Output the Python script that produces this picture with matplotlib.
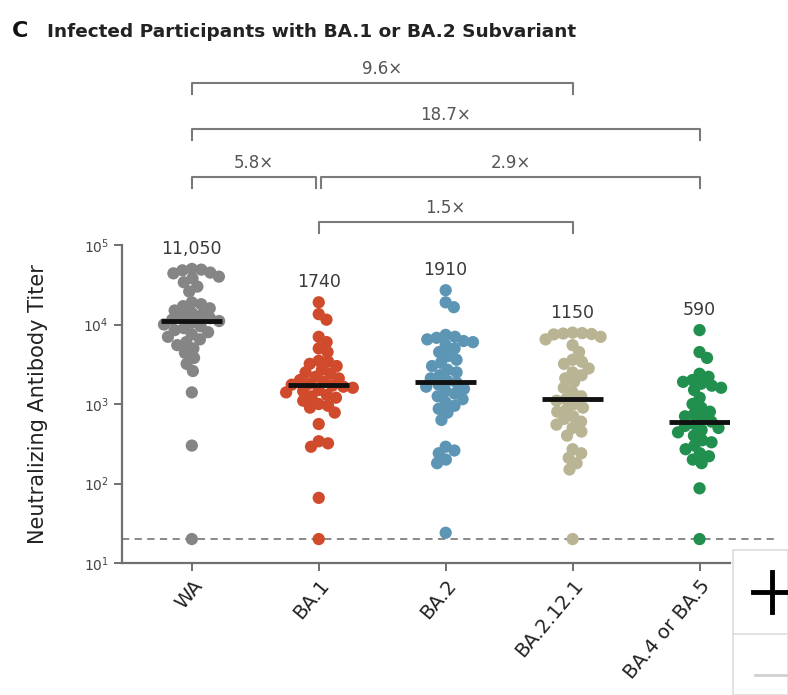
import numpy as np
import matplotlib
matplotlib.use("Agg")
import matplotlib.pyplot as plt
import matplotlib.transforms as mtransforms
from matplotlib.patches import Rectangle
from matplotlib.lines import Line2D

# data
groups = ["WA", "BA.1", "BA.2", "BA.2.12.1", "BA.4 or BA.5"]
colors = ["#858585", "#d04a2c", "#5c96b4", "#b9b493", "#21904f"]
medians = [11050, 1740, 1910, 1150, 590]
median_labels = ["11,050", "1740", "1910", "1150", "590"]

wa = [50000, 49000, 48000, 45000, 44000, 40000, 38000, 34000, 30000, 26000,
      19000, 18000, 17000, 16000, 15000, 14000, 13000, 12500, 12000, 11500,
      11050, 10500, 10000, 9500, 9000, 8500, 8000, 7500, 7000, 6500, 6000,
      5500, 5000, 4400, 3800, 3200, 2600, 1400, 300, 20]
ba1 = [19000, 13500, 11500, 7000, 6000, 5000, 4500, 3500, 3400, 3200, 3000,
       2700, 2500, 2400, 2200, 2100, 2000, 1900, 1800, 1750, 1700, 1650, 1600,
       1500, 1450, 1400, 1300, 1250, 1200, 1100, 1000, 950, 900, 780, 560, 340,
       320, 290, 66, 20]
ba2 = [27000, 19000, 16500, 7400, 7000, 6800, 6500, 6200, 6000, 5500, 5000,
       4500, 4000, 3600, 3300, 3000, 2700, 2500, 2300, 2100, 1950, 1850, 1750,
       1650, 1550, 1450, 1350, 1250, 1150, 1050, 950, 870, 780, 630, 290, 260,
       240, 200, 180, 24]
ba2121 = [7900, 7800, 7700, 7600, 7500, 7000, 6500, 5500, 4500, 3600, 3400,
          3200, 2800, 2500, 2300, 2100, 1900, 1600, 1400, 1250, 1150, 1100, 1000,
          900, 850, 800, 700, 650, 600, 550, 500, 450, 400, 270, 240, 210, 180,
          150, 20]
ba45 = [8500, 4500, 3800, 2400, 2200, 2000, 1900, 1800, 1700, 1600, 1500, 1200,
        1000, 900, 800, 750, 700, 650, 600, 560, 530, 500, 470, 440, 400, 350,
        330, 300, 270, 240, 220, 200, 180, 87, 20]
series = [wa, ba1, ba2, ba2121, ba45]

# fold-change brackets
brackets_start = [0, 0, 0, 1.02, 1]
brackets_end = [3, 4, 0.98, 4, 3]
brackets_text = ["9.6×", "18.7×", "5.8×", "2.9×", "1.5×"]
brackets_row = [0, 1, 2, 2, 3]

lod = 20

W, H = 788, 695
fig = plt.figure(figsize=(W / 100, H / 100), dpi=100)
ax = fig.add_axes([122 / W, (H - 563) / H, (730 - 122) / W, (563 - 245) / H])
ax.set_yscale("log")
ax.set_ylim(10, 1e5)
ax.set_xlim(-0.55, 4.24)


def swarm_offsets(vals, dist):
    """simple beeswarm in pixel space, returns x offsets in pixels"""
    ypix = ax.transData.transform(np.column_stack([np.zeros(len(vals)), vals]))[:, 1]
    order = np.argsort(-ypix)
    placed = []
    offs = np.zeros(len(vals))
    for k in order:
        y = ypix[k]
        cands = [0.0]
        for (px, py) in placed:
            dy = abs(py - y)
            if dy < dist:
                dx = np.sqrt(dist ** 2 - dy ** 2)
                cands += [px + dx, px - dx]
        cands.sort(key=abs)
        for c in cands:
            ok = all((c - px) ** 2 + (y - py) ** 2 >= dist ** 2 - 1e-6
                     for (px, py) in placed)
            if ok:
                offs[k] = c
                placed.append((c, y))
                break
    return offs


px_per_unit = ax.transData.transform((1, 10))[0] - ax.transData.transform((0, 10))[0]
for i, (vals, c) in enumerate(zip(series, colors)):
    offs = swarm_offsets(vals, 9.5) / px_per_unit
    ax.scatter(i + offs, vals, s=78, color=c, edgecolor="none", zorder=3,
               clip_on=False)

# medians
for i, m in enumerate(medians):
    ax.plot([i - 0.24, i + 0.24], [m, m], color="#111111", lw=3.5, zorder=5,
            solid_capstyle="butt")

# median labels above the highest point
for i, (vals, lab) in enumerate(zip(series, median_labels)):
    ax.annotate(lab, (i, max(vals)), xytext=(0, 8), textcoords="offset points",
                ha="center", va="bottom", fontsize=12.5, color="#3a3a3a",
                annotation_clip=False)

# limit of detection
ax.plot([-0.55, 4.6], [lod, lod], color="#808080", lw=1.3, ls=(0, (4, 3)),
        zorder=2, clip_on=False)

for s in ["top", "right"]:
    ax.spines[s].set_visible(False)
for s in ["left", "bottom"]:
    ax.spines[s].set_color("#707070")
    ax.spines[s].set_linewidth(1.6)
ax.tick_params(axis="both", color="#707070", width=1.4, length=6,
               labelcolor="#444444", labelsize=10)
ax.yaxis.set_minor_locator(matplotlib.ticker.NullLocator())
ax.set_xticks(range(len(groups)))
ax.set_xticklabels(groups, rotation=50, ha="right", rotation_mode="anchor",
                   fontsize=14, color="#222222")
ax.set_ylabel("Neutralizing Antibody Titer", fontsize=15, color="#222222")
ax.yaxis.set_label_coords(-(122 - 48) / (730 - 122), 0.5)

# brackets
trans = mtransforms.blended_transform_factory(ax.transData, fig.transFigure)
row_y = [83, 129, 177, 222]
for x0, x1, txt, r in zip(brackets_start, brackets_end, brackets_text, brackets_row):
    y = 1 - row_y[r] / H
    dy = 11 / H
    ax.add_line(Line2D([x0, x0, x1, x1], [y - dy, y, y, y - dy], transform=trans,
                       color="#7a7a7a", lw=1.5, clip_on=False))
    ax.text((x0 + x1) / 2, y + 5 / H, txt, transform=trans, ha="center",
            va="bottom", fontsize=12, color="#555555")

# title
fig.text(12 / W, 1 - 37 / H, "C", fontsize=16, fontweight="bold", color="#111111")
fig.text(47 / W, 1 - 37 / H, "Infected Participants with BA.1 or BA.2 Subvariant",
         fontsize=13.3, fontweight="bold", color="#222222")

# zoom widget overlay at the lower right corner
fig.add_artist(Rectangle((733 / W, 0), (W - 733) / W, (H - 550) / H,
                         transform=fig.transFigure, facecolor="white",
                         edgecolor="#dddddd", lw=1.2, zorder=10))
fig.add_artist(Line2D([753 / W, 792 / W], [1 - 592 / H, 1 - 592 / H],
                      transform=fig.transFigure, color="black", lw=3.5, zorder=11))
fig.add_artist(Line2D([772 / W, 772 / W], [1 - 572 / H, 1 - 612 / H],
                      transform=fig.transFigure, color="black", lw=3.5, zorder=11))
fig.add_artist(Line2D([733 / W, 1], [1 - 634 / H, 1 - 634 / H],
                      transform=fig.transFigure, color="#dddddd", lw=1.2, zorder=11))
fig.add_artist(Line2D([755 / W, 1], [1 - 675 / H, 1 - 675 / H],
                      transform=fig.transFigure, color="#d0d0d0", lw=2, zorder=11))

fig.savefig("out.png", dpi=100)
